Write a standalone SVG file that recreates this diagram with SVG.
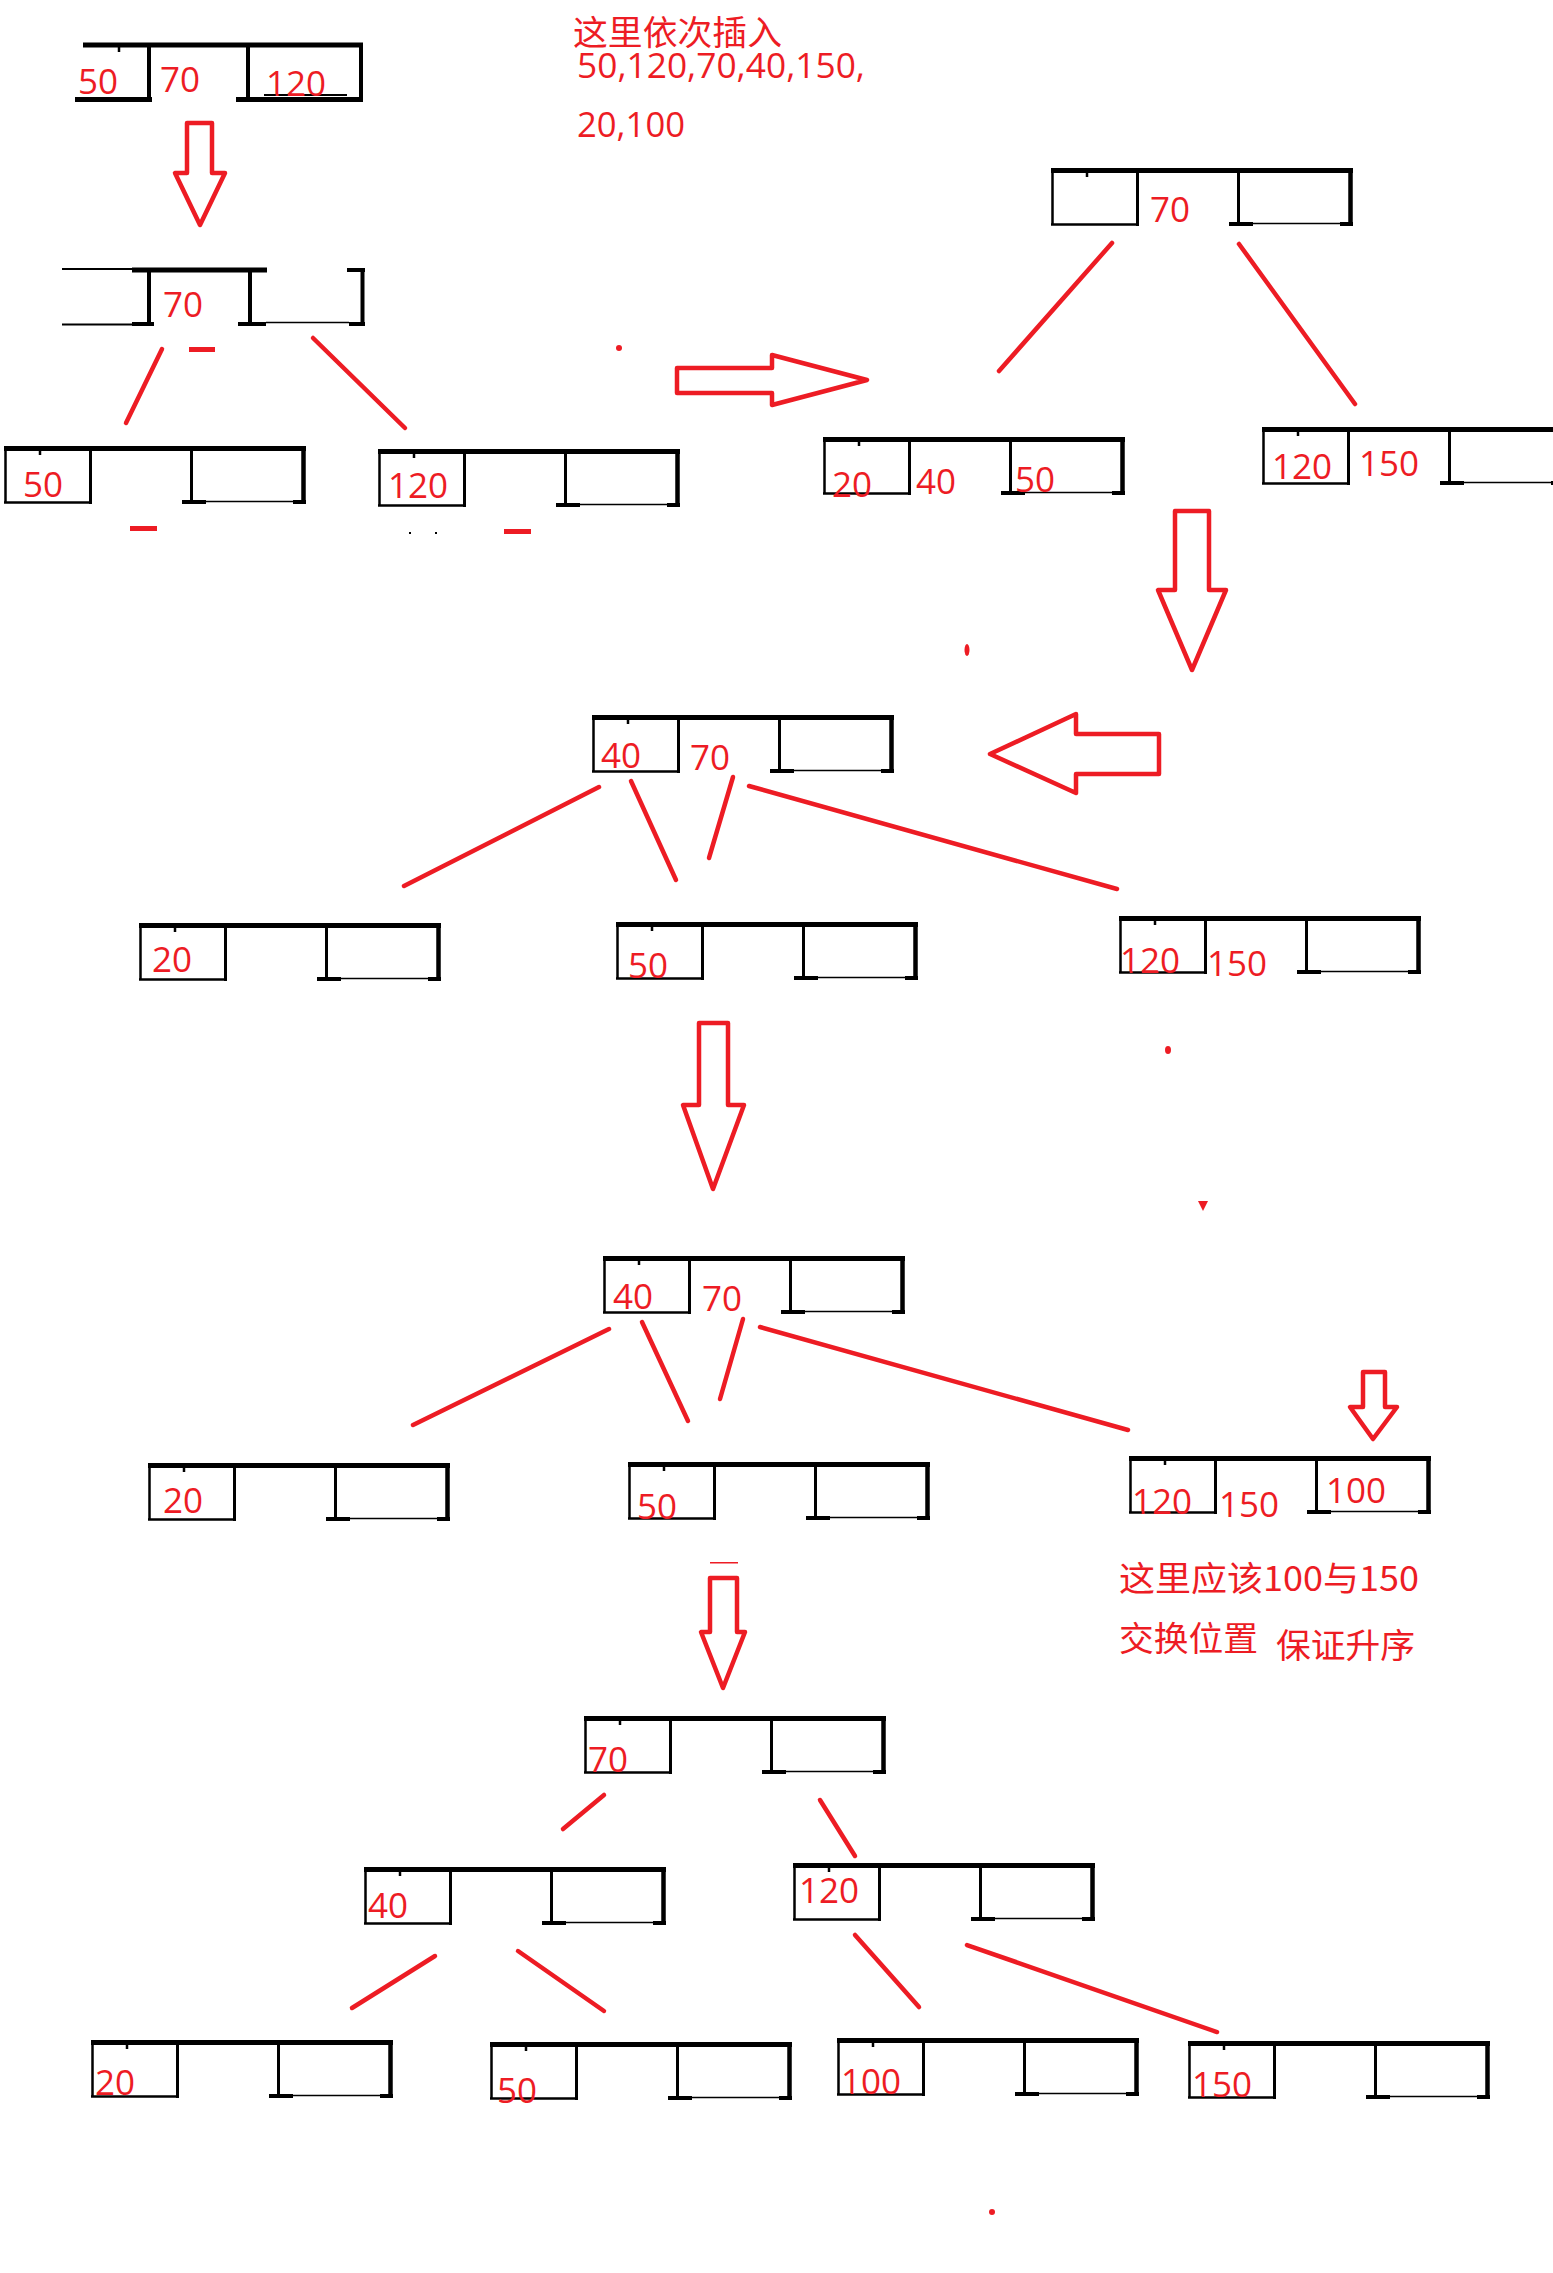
<svg xmlns="http://www.w3.org/2000/svg" width="1553" height="2273" viewBox="0 0 1553 2273">
<style>
.bk{stroke:#000;fill:none;stroke-linecap:butt}
.lbl{fill:#ed1c24;font-family:"Open Sans","Noto Sans",sans-serif;font-size:35px}
.cjk{fill:#ed1c24;font-family:"Noto Sans CJK SC","Noto Sans",sans-serif;font-size:34px}
.con{stroke:#ed1c24;stroke-width:4.5;stroke-linecap:round;fill:none}
.arr{stroke:#ed1c24;stroke-width:4.5;fill:#fff;stroke-linejoin:round}
.mk{fill:#ed1c24}
</style>
<defs>
<g id="box" class="bk">
<path d="M0,2.5H302" stroke-width="5"/>
<path d="M1.5,0V57" stroke-width="2.5"/>
<path d="M0,56.5H88" stroke-width="2.5"/>
<path d="M86.5,0V58" stroke-width="3"/>
<path d="M187.5,0V57" stroke-width="3"/>
<path d="M178,56H202" stroke-width="4"/>
<path d="M187,55.5H302" stroke-width="1.5"/>
<path d="M299.5,0V58" stroke-width="4.5"/>
<path d="M289,56H302" stroke-width="4"/>
<path d="M36,4V9" stroke-width="2.5"/>
</g>
</defs>
<rect width="1553" height="2273" fill="#fff"/>

<g id="header">
<text class="cjk" x="573" y="45" textLength="209" lengthAdjust="spacingAndGlyphs">这里依次插入</text>
<text class="lbl" x="577" y="78" textLength="288" lengthAdjust="spacingAndGlyphs">50,120,70,40,150,</text>
<text class="lbl" x="577" y="137" textLength="108" lengthAdjust="spacingAndGlyphs">20,100</text>
</g>

<g id="note">
<text class="cjk" x="1119" y="1591" textLength="300" lengthAdjust="spacingAndGlyphs">这里应该100与150</text>
<text class="cjk" x="1119" y="1651" textLength="139" lengthAdjust="spacingAndGlyphs">交换位置</text>
<text class="cjk" x="1276" y="1658" textLength="139" lengthAdjust="spacingAndGlyphs">保证升序</text>
</g>

<g id="connectors">
<path class="con" d="M162,349L126,423"/>
<path class="con" d="M313,338L405,428"/>
<path class="con" d="M1112,243L999,371"/>
<path class="con" d="M1239,244L1355,404"/>
<path class="con" d="M599,787L404,886"/>
<path class="con" d="M631,781L676,880"/>
<path class="con" d="M733,777L709,858"/>
<path class="con" d="M749,786L1117,889"/>
<path class="con" d="M609,1329L413,1425"/>
<path class="con" d="M642,1322L688,1421"/>
<path class="con" d="M743,1319L720,1399"/>
<path class="con" d="M760,1327L1128,1430"/>
<path class="con" d="M604,1795L563,1829"/>
<path class="con" d="M820,1800L855,1856"/>
<path class="con" d="M435,1956L352,2008"/>
<path class="con" d="M518,1951L604,2011"/>
<path class="con" d="M855,1935L919,2007"/>
<path class="con" d="M967,1945L1217,2032"/>
</g>

<g id="arrows">
<path class="arr" d="M187,123H212V173H225L200,225L175,173H187Z"/>
<path class="arr" d="M677,368H772V355L867,380L772,405V393H677Z"/>
<path class="arr" d="M1175,511H1209V590H1226L1192,670L1158,590H1175Z"/>
<path class="arr" d="M1159,734H1076V714L990,754L1076,793V774H1159Z"/>
<path class="arr" d="M699,1023H728V1105H744L713,1189L683,1105H699Z"/>
<path class="arr" d="M1363,1372H1385V1407H1397L1373,1439L1350,1407H1363Z"/>
<path class="arr" d="M710,1578H737V1632H745L723,1688L701,1632H710Z"/>
</g>

<g id="marks">
<rect class="mk" x="189" y="347" width="26" height="5"/>
<circle class="mk" cx="619" cy="348" r="3"/>
<rect class="mk" x="130" y="526" width="27" height="5"/>
<rect class="mk" x="504" y="529" width="27" height="5"/>
<rect x="409" y="532" width="2" height="2" fill="#000"/>
<rect x="435" y="532" width="2" height="2" fill="#000"/>
<ellipse class="mk" cx="967" cy="650" rx="2.5" ry="6"/>
<ellipse class="mk" cx="1168" cy="1050" rx="3" ry="4"/>
<path class="mk" d="M1198,1201L1208,1201L1203,1211Z"/>
<rect class="mk" x="710" y="1562" width="28" height="1.5"/>
<circle class="mk" cx="992" cy="2212" r="3"/>
</g>

<g id="n1">
<g class="bk">
<path d="M83,45H363" stroke-width="5"/>
<path d="M119,47V52" stroke-width="2.5"/>
<path d="M75,99.5H152" stroke-width="5"/>
<path d="M149,45V102" stroke-width="4"/>
<path d="M248,45V102" stroke-width="4"/>
<path d="M236,99.5H363" stroke-width="5"/>
<path d="M264,95H347" stroke-width="2"/>
<path d="M361,45V102" stroke-width="4"/>
</g>
<text class="lbl" x="78" y="94">50</text>
<text class="lbl" x="160" y="92">70</text>
<text class="lbl" x="266" y="96">120</text>
</g>

<g id="n2">
<g class="bk">
<path d="M62,269H132" stroke-width="2"/>
<path d="M132,270H267" stroke-width="5"/>
<path d="M347,270H365" stroke-width="4"/>
<path d="M362.5,268V326" stroke-width="4"/>
<path d="M149,268V326" stroke-width="4"/>
<path d="M250,268V326" stroke-width="4"/>
<path d="M62,324.5H154" stroke-width="2"/>
<path d="M132,324H154" stroke-width="4"/>
<path d="M238,324H266" stroke-width="4"/>
<path d="M266,322.5H349" stroke-width="1.5"/>
<path d="M349,324H365" stroke-width="4"/>
</g>
<text class="lbl" x="163" y="317">70</text>
</g>

<g id="n3"><use href="#box" x="4" y="446"/><text class="lbl" x="23" y="497">50</text></g>
<g id="n4"><use href="#box" x="378" y="449"/><text class="lbl" x="388" y="498">120</text></g>
<g id="n5"><use href="#box" x="1051" y="168"/><text class="lbl" x="1150" y="222">70</text></g>
<g id="n6"><use href="#box" x="823" y="437"/><text class="lbl" x="832" y="497">20</text><text class="lbl" x="916" y="494">40</text><text class="lbl" x="1015" y="492">50</text></g>
<g id="n7"><use href="#box" x="1262" y="427"/><text class="lbl" x="1272" y="479">120</text><text class="lbl" x="1359" y="476">150</text></g>
<g id="n8"><use href="#box" x="592" y="715"/><text class="lbl" x="601" y="768">40</text><text class="lbl" x="690" y="770">70</text></g>
<g id="n9"><use href="#box" x="139" y="923"/><text class="lbl" x="152" y="972">20</text></g>
<g id="n10"><use href="#box" x="616" y="922"/><text class="lbl" x="628" y="978">50</text></g>
<g id="n11"><use href="#box" x="1119" y="916"/><text class="lbl" x="1120" y="973">120</text><text class="lbl" x="1207" y="976">150</text></g>
<g id="n12"><use href="#box" x="603" y="1256"/><text class="lbl" x="613" y="1309">40</text><text class="lbl" x="702" y="1311">70</text></g>
<g id="n13"><use href="#box" x="148" y="1463"/><text class="lbl" x="163" y="1513">20</text></g>
<g id="n14"><use href="#box" x="628" y="1462"/><text class="lbl" x="637" y="1519">50</text></g>
<g id="n15"><use href="#box" x="1129" y="1456"/><text class="lbl" x="1132" y="1514">120</text><text class="lbl" x="1219" y="1517">150</text><text class="lbl" x="1326" y="1503">100</text></g>
<g id="n16"><use href="#box" x="584" y="1716"/><text class="lbl" x="588" y="1772">70</text></g>
<g id="n17"><use href="#box" x="364" y="1867"/><text class="lbl" x="368" y="1918">40</text></g>
<g id="n18"><use href="#box" x="793" y="1863"/><text class="lbl" x="799" y="1903">120</text></g>
<g id="n19"><use href="#box" x="91" y="2040"/><text class="lbl" x="95" y="2095">20</text></g>
<g id="n20"><use href="#box" x="490" y="2042"/><text class="lbl" x="497" y="2103">50</text></g>
<g id="n21"><use href="#box" x="837" y="2038"/><text class="lbl" x="841" y="2094">100</text></g>
<g id="n22"><use href="#box" x="1188" y="2041"/><text class="lbl" x="1192" y="2097">150</text></g>
</svg>
